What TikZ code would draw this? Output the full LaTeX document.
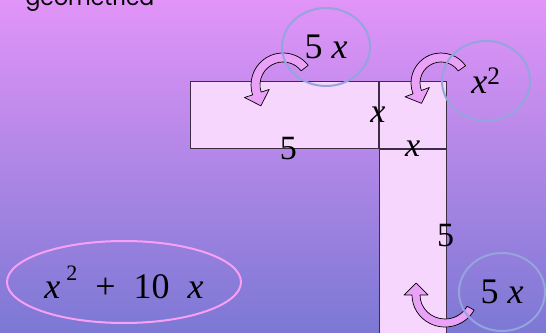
\documentclass[tikz,border=0pt]{standalone}
\usepackage{fontspec}
\setmainfont{Liberation Serif}
\newfontfamily\titlefont{Poppins}
\usetikzlibrary{positioning, shapes.geometric, calc}
\definecolor{bgtop}{RGB}{226,148,248}
\definecolor{bgbot}{RGB}{124,120,212}
\definecolor{tilefill}{RGB}{247,214,253}
\definecolor{tileline}{RGB}{60,44,68}
\definecolor{ringblue}{RGB}{150,164,222}
\definecolor{ringpink}{RGB}{248,160,246}
\definecolor{arrowpink}{RGB}{234,162,248}
\newcommand{\vx}{\textit{x}}
% bent block arrow: centre, x rad, y rad, band, from, to, head half, head length, tip turn
\newcommand{\turnarrow}[9]{%
  \filldraw[turn] ($(#1)+(#5:{#2+#4/2} and {#3+#4/2})$)
    arc[start angle=#5, end angle=#6, x radius={#2+#4/2}, y radius={#3+#4/2}]
    -- ($(#1)+(#6:{#2+#7} and {#3+#7})$)
    -- ($(#1)+(#6:#2 and #3)+({#6+#9}:#8)$)
    -- ($(#1)+(#6:{#2-#7} and {#3-#7})$)
    -- ($(#1)+(#6:{#2-#4/2} and {#3-#4/2})$)
    arc[start angle=#6, end angle=#5, x radius={#2-#4/2}, y radius={#3-#4/2}]
    -- cycle;}
\tikzset{
  tile/.style={draw=tileline, fill=tilefill, line width=0.8pt, inner sep=0pt},
  ring/.style={ellipse, draw=ringblue, line width=2pt, inner sep=0pt,
    font=\fontsize{36}{40}\selectfont},
  sumring/.style={ellipse, draw=ringpink, line width=2pt, inner sep=0pt,
    font=\fontsize{36}{40}\selectfont},
  turn/.style={draw=black, fill=arrowpink, line width=0.7pt, line join=round}
}
\begin{document}
\begin{tikzpicture}[x=1pt, y=1pt, font=\fontsize{34}{38}\selectfont]
\useasboundingbox (0,0) rectangle (546,332);
\clip (0,0) rectangle (546,332);
\shade[top color=bgtop, bottom color=bgbot] (0,0) rectangle (546,332);

\node[anchor=base west, font=\titlefont\fontsize{22}{26}\selectfont] (title) at (22,326) {geometrica};

% the three tiles
\node[tile, minimum width=188pt, minimum height=67pt, anchor=north west] (long) at (190,251) {};
\node[tile, minimum width=67pt, minimum height=67pt, anchor=west] (sq) at (long.east) {};
\node[tile, minimum width=67pt, minimum height=190pt, anchor=north] (tall) at (sq.south) {};

\node (l5) at ([xshift=4pt]long.south) {5};
\node (lx) at ([xshift=-1pt]long.east) {\vx};
\node (sx) at (sq.south) {\vx};
\node (t5) at ([xshift=-1pt, yshift=9pt]tall.east) {5};

% arrows
\coordinate (c1) at (283,247);
\coordinate (c2) at (441,249);
\coordinate (c3) at (445,37);
\turnarrow{c1}{27.5}{27.5}{9}{38}{198}{13}{13}{90}
\turnarrow{c2}{25.5}{25.5}{9}{35}{201}{13}{12}{90}
\turnarrow{c3}{29}{28}{8}{-28}{-180}{12}{12}{-90}

% rings
\node[ring, minimum width=88pt, minimum height=78pt] (area1) at (326,285) {5 \vx};
\node[ring, minimum width=88pt, minimum height=80pt] (area2) at (486,251) {\vx\textsuperscript{2}};
\node[ring, minimum width=86pt, minimum height=78pt] (area3) at (502,40) {5 \vx};
\node[sumring, minimum width=234pt, minimum height=82pt] (total) at (124,50)
  {\vx\,\raisebox{0.5em}{\fontsize{22}{22}\selectfont 2}\enspace+\enspace10\enspace\vx};
\end{tikzpicture}
\end{document}
